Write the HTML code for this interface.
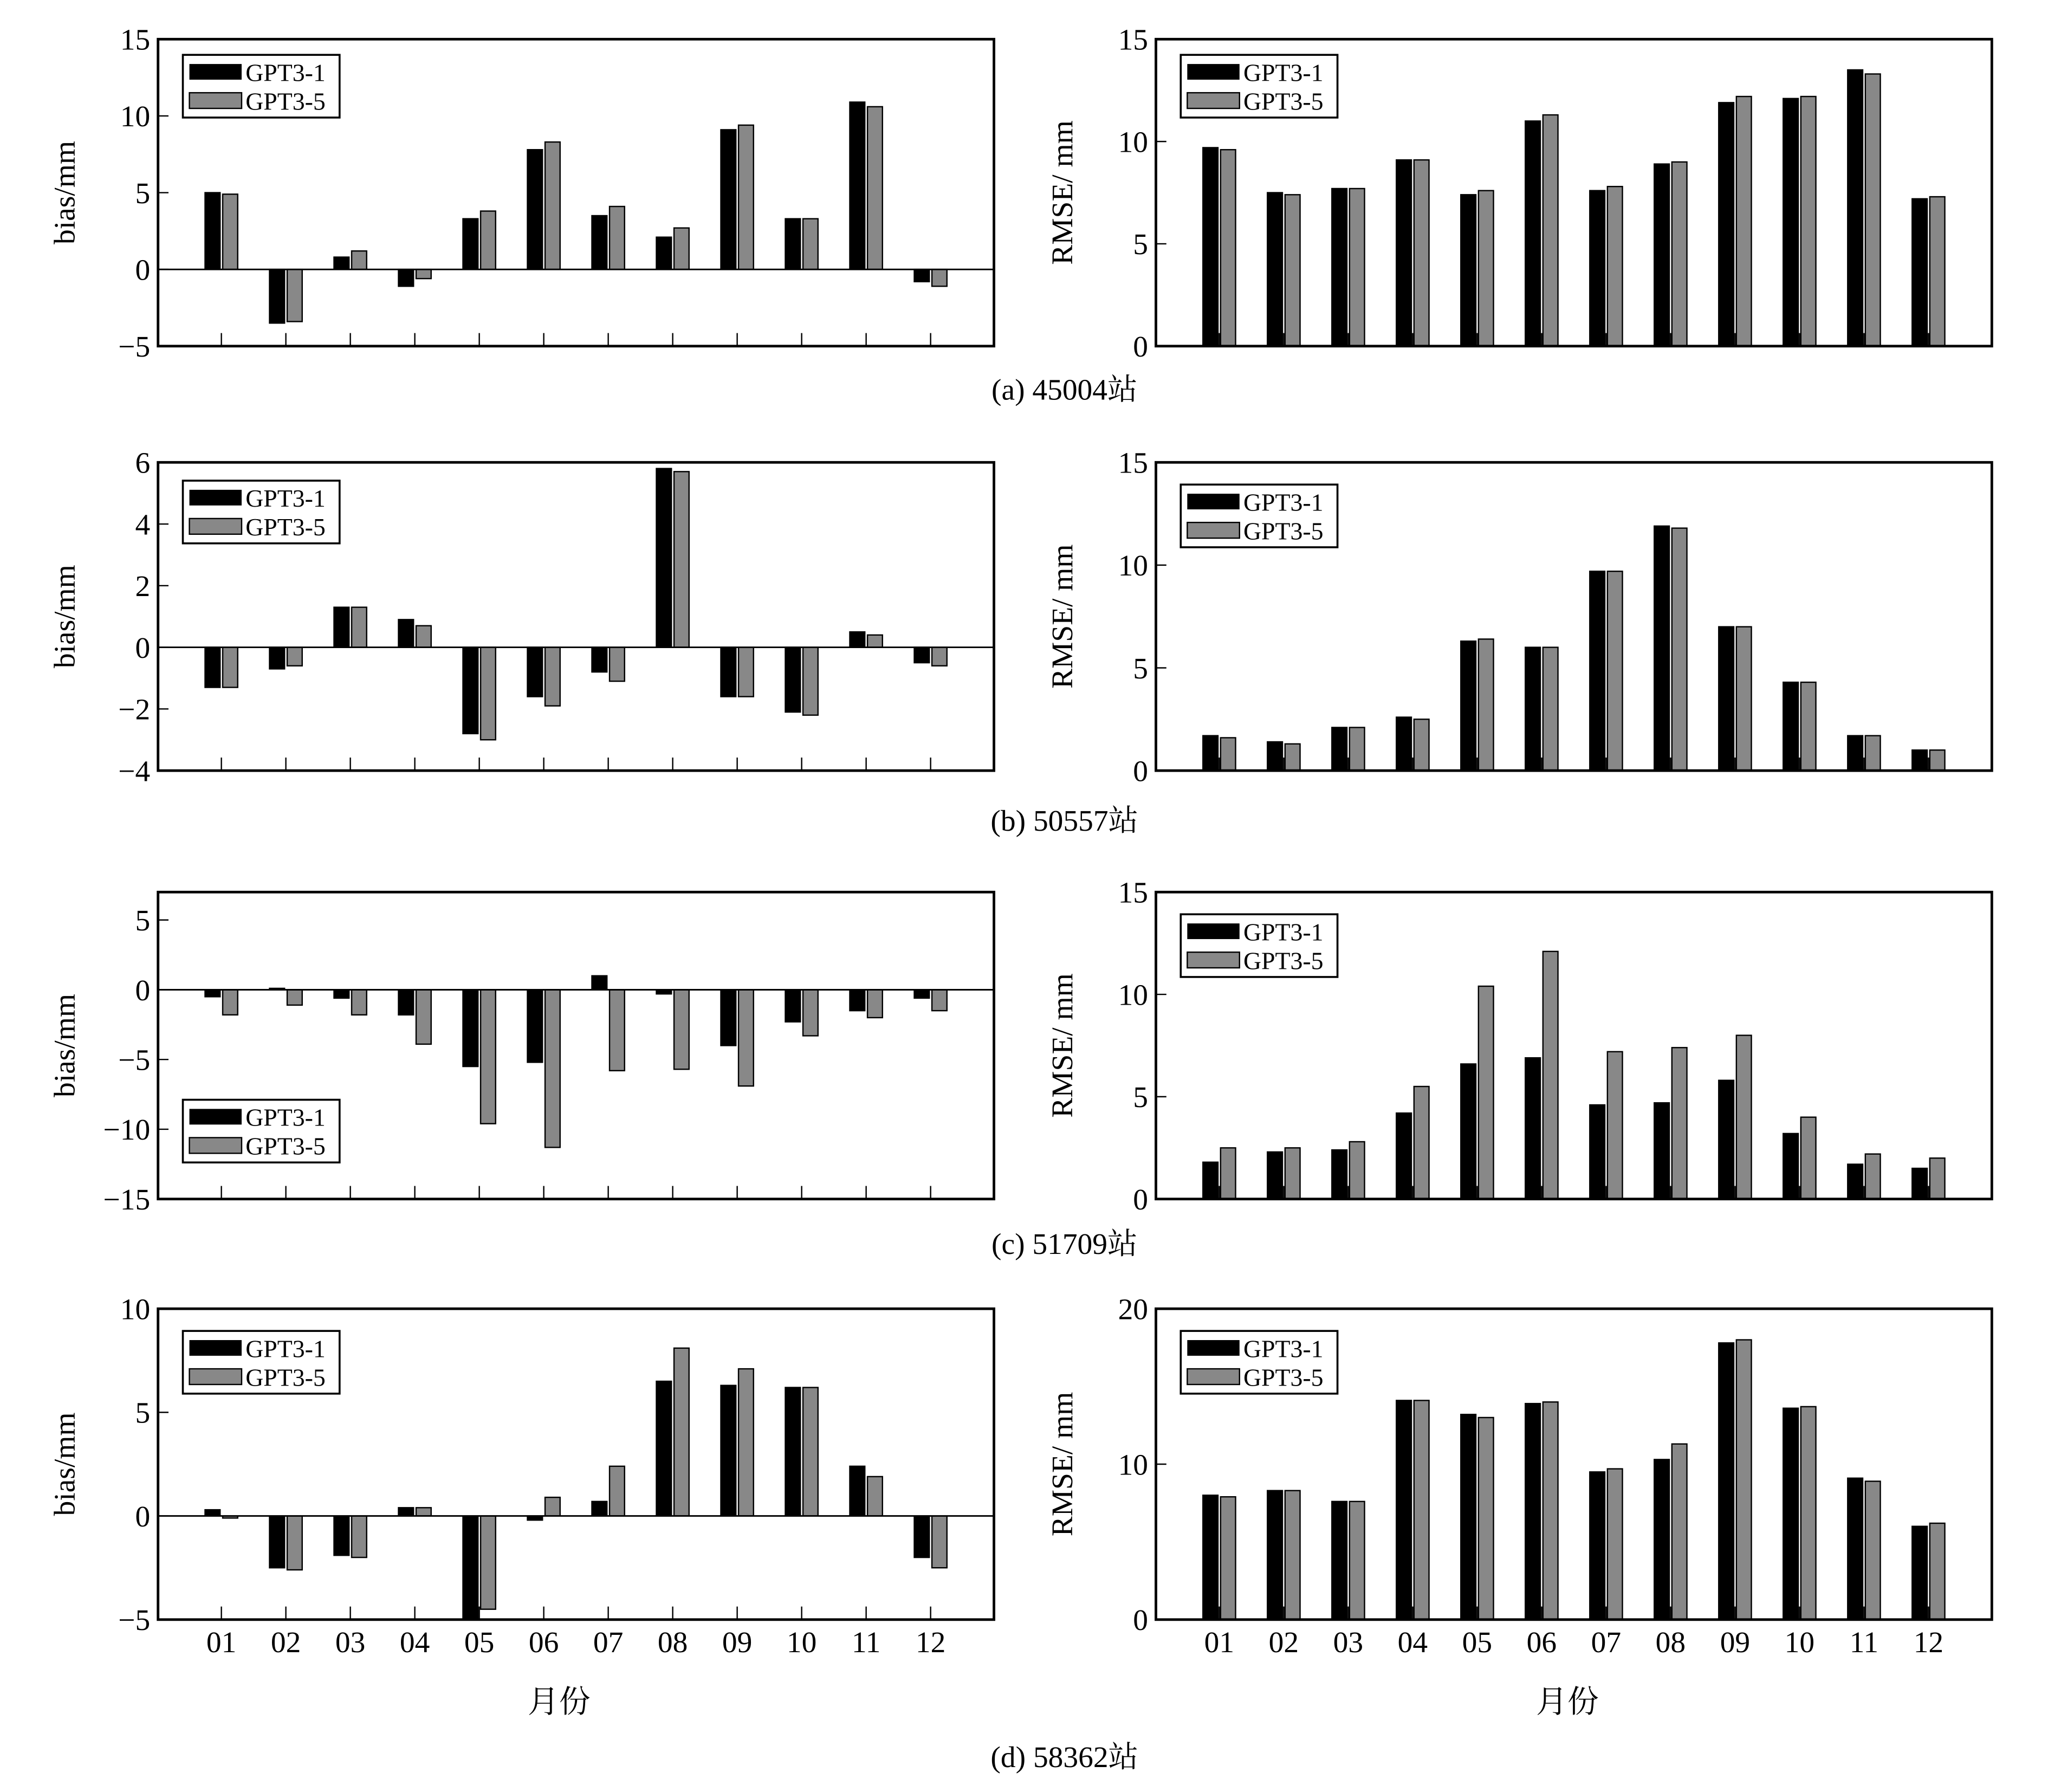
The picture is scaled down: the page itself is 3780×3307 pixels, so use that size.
<!DOCTYPE html>
<html><head><meta charset="utf-8">
<style>
html,body{margin:0;padding:0;background:#fff;}
svg{display:block;}
text{font-family:"Liberation Serif","Noto Serif CJK SC",serif;fill:#000;}
</style></head>
<body>
<svg id="fig" width="3780" height="3307" viewBox="0 0 1568 1372" preserveAspectRatio="none" xmlns="http://www.w3.org/2000/svg"></svg>
<script>
const months = ["01","02","03","04","05","06","07","08","09","10","11","12"];
// (a) 45004
const aBias1 = [5.0,-3.5,0.8,-1.1,3.3,7.8,3.5,2.1,9.1,3.3,10.9,-0.8];
const aBias5 = [4.9,-3.4,1.2,-0.6,3.8,8.3,4.1,2.7,9.4,3.3,10.6,-1.1];
const aRmse1 = [9.7,7.5,7.7,9.1,7.4,11.0,7.6,8.9,11.9,12.1,13.5,7.2];
const aRmse5 = [9.6,7.4,7.7,9.1,7.6,11.3,7.8,9.0,12.2,12.2,13.3,7.3];
// (b) 50557
const bBias1 = [-1.3,-0.7,1.3,0.9,-2.8,-1.6,-0.8,5.8,-1.6,-2.1,0.5,-0.5];
const bBias5 = [-1.3,-0.6,1.3,0.7,-3.0,-1.9,-1.1,5.7,-1.6,-2.2,0.4,-0.6];
const bRmse1 = [1.7,1.4,2.1,2.6,6.3,6.0,9.7,11.9,7.0,4.3,1.7,1.0];
const bRmse5 = [1.6,1.3,2.1,2.5,6.4,6.0,9.7,11.8,7.0,4.3,1.7,1.0];
// (c) 51709
const cBias1 = [-0.5,0.1,-0.6,-1.8,-5.5,-5.2,1.0,-0.3,-4.0,-2.3,-1.5,-0.6];
const cBias5 = [-1.8,-1.1,-1.8,-3.9,-9.6,-11.3,-5.8,-5.7,-6.9,-3.3,-2.0,-1.5];
const cRmse1 = [1.8,2.3,2.4,4.2,6.6,6.9,4.6,4.7,5.8,3.2,1.7,1.5];
const cRmse5 = [2.5,2.5,2.8,5.5,10.4,12.1,7.2,7.4,8.0,4.0,2.2,2.0];
// (d) 58362
const dBias1 = [0.3,-2.5,-1.9,0.4,-5.0,-0.2,0.7,6.5,6.3,6.2,2.4,-2.0];
const dBias5 = [-0.1,-2.6,-2.0,0.4,-4.5,0.9,2.4,8.1,7.1,6.2,1.9,-2.5];
const dRmse1 = [8.0,8.3,7.6,14.1,13.2,13.9,9.5,10.3,17.8,13.6,9.1,6.0];
const dRmse5 = [7.9,8.3,7.6,14.1,13.0,14.0,9.7,11.3,18.0,13.7,8.9,6.2];
const biasTicksA = [-5,0,5,10,15];
const biasTicksB = [-4,-2,0,2,4,6];
const biasTicksC = [-15,-10,-5,0,5];
const biasTicksD = [-5,0,5,10];
const rmseTicks15 = [0,5,10,15];
const rmseTicks20 = [0,10,20];

const NS="http://www.w3.org/2000/svg";
const svg=document.getElementById('fig');
function mk(tag,attrs,parent){const e=document.createElementNS(NS,tag);for(const k in attrs)e.setAttribute(k,attrs[k]);(parent||svg).appendChild(e);return e;}

function panel(name,x0,x1,y0,y1,ymin,ymax,ticks,s1,s5,ylabel,legendY,showX){
  const g=mk('g',{});
  
  
  const ys=v=>y1-(v-ymin)/(ymax-ymin)*(y1-y0);
  const step=(x1-x0-97)/11;
  const xc=i=>x0+48.5+i*step;
  const base=ys(Math.max(ymin,0));
  for(let i=0;i<months.length;i++){
    const c=xc(i);
    [[s1[i],'#000',c-12.5],[s5[i],'#888',c+1]].forEach(([v,col,bx],k)=>{
      const vy=ys(Math.max(ymin,Math.min(ymax,v)));
      const r=mk('rect',{x:bx,y:Math.min(vy,base),width:11.5,height:Math.max(1,Math.abs(vy-base)),fill:col,stroke:'#000','stroke-width':1},g);
      
      
    });
    mk('line',{x1:c,x2:c,y1:y1,y2:y1-10,stroke:'#000','stroke-width':1},g);
    if(showX){
      const t=mk('text',{x:c,y:y1+25,'text-anchor':'middle','font-size':23},g);
      t.textContent=months[i];
      
      
    }
  }
  if(ymin<0) mk('line',{x1:x0,x2:x1,y1:ys(0),y2:ys(0),stroke:'#000','stroke-width':1.2},g);
  ticks.forEach(v=>{
    const y=ys(v);
    mk('line',{x1:x0,x2:x0+8,y1:y,y2:y,stroke:'#000','stroke-width':1},g);
    const t=mk('text',{x:x0-6,y:y+8,'text-anchor':'end','font-size':23},g);
    t.textContent=v<0?'\u2212'+(-v):String(v);
    
    
  });
  mk('rect',{x:x0,y:y0,width:x1-x0,height:y1-y0,fill:'none',stroke:'#000','stroke-width':2},g);
  const yl=mk('text',{x:0,y:0,'text-anchor':'middle','font-size':23,transform:`translate(${x0-64},${(y0+y1)/2}) rotate(-90)`},g);
  yl.textContent=ylabel;
  
  
  const lg=mk('g',{},g);
  
  
  const lx=x0+19;
  mk('rect',{x:lx,y:legendY,width:120,height:48,fill:'#fff',stroke:'#000','stroke-width':1.5},lg);
  mk('rect',{x:lx+5,y:legendY+7,width:40,height:12,fill:'#000'},lg);
  mk('rect',{x:lx+5,y:legendY+29,width:40,height:12,fill:'#888',stroke:'#000','stroke-width':1},lg);
  const t1=mk('text',{x:lx+48,y:legendY+20,'font-size':19},lg);t1.textContent='GPT3-1';
  const t2=mk('text',{x:lx+48,y:legendY+42,'font-size':19},lg);t2.textContent='GPT3-5';
}
const L=[121,761],R=[885,1525];
panel('bias-panel-a',L[0],L[1],30,265,-5,15,biasTicksA,aBias1,aBias5,'bias/mm',42,false);
panel('rmse-panel-a',R[0],R[1],30,265,0,15,rmseTicks15,aRmse1,aRmse5,'RMSE/ mm',42,false);
panel('bias-panel-b',L[0],L[1],354,590,-4,6,biasTicksB,bBias1,bBias5,'bias/mm',368,false);
panel('rmse-panel-b',R[0],R[1],354,590,0,15,rmseTicks15,bRmse1,bRmse5,'RMSE/ mm',371,false);
panel('bias-panel-c',L[0],L[1],683,918,-15,7,biasTicksC,cBias1,cBias5,'bias/mm',842,false);
panel('rmse-panel-c',R[0],R[1],683,918,0,15,rmseTicks15,cRmse1,cRmse5,'RMSE/ mm',700,false);
panel('bias-panel-d',L[0],L[1],1002,1240,-5,10,biasTicksD,dBias1,dBias5,'bias/mm',1019,true);
panel('rmse-panel-d',R[0],R[1],1002,1240,0,20,rmseTicks20,dRmse1,dRmse5,'RMSE/ mm',1019,true);
[['(a) 45004站',309],['(b) 50557站',639],['(c) 51709站',963],['(d) 58362站',1356]].forEach(([s,y])=>{
  const t=mk('text',{x:815,y:y-3,'text-anchor':'middle','font-size':23});
  t.textContent=s;
  
  
});
[428,1200].forEach(x=>{
  const t=mk('text',{x:x,y:1311,'text-anchor':'middle','font-size':24});
  t.textContent='月份';
  
  
});
</script>
</body></html>
